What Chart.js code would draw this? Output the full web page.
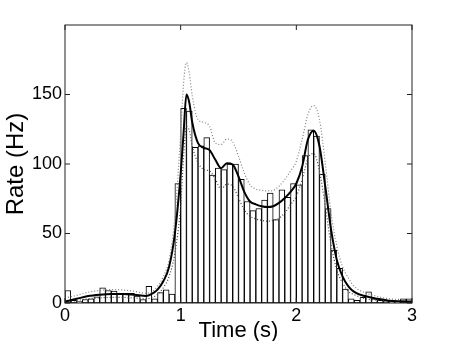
<!DOCTYPE html>
<html>
<head>
<meta charset="utf-8">
<title>Rate</title>
<script src="https://cdn.jsdelivr.net/npm/chart.js@4/dist/chart.umd.min.js"></script>
<style>
  html, body { margin: 0; padding: 0; background: #fff; }
  canvas { display: block; }
</style>
</head>
<body>
<canvas id="rateChart" width="455" height="341"></canvas>
<script>
// PSTH counts, 50 ms bins from 0 to 3 s
const binWidth = 0.05;
const binRate = [
  9, 2, 1, 2.5, 3, 4.5, 11, 9, 8.5, 7,
  7, 7, 5, 2.5, 12, 3, 7.5, 9.5, 6.5, 86,
  140, 138, 112, 113, 119, 92, 97, 96, 100, 100,
  89, 73, 66.5, 68, 74, 79, 60, 81.5, 76, 86,
  85, 106, 124.5, 120, 92.5, 68, 38, 25, 10, 3,
  2, 4, 8, 3, 2, 1.5, 1, 1, 3, 3
];
const binCenters = binRate.map((_, i) => (i + 0.5) * binWidth);

// smoothed rate estimate with its upper / lower bounds
const curveTime = [
  0, 0.1, 0.2, 0.3, 0.4, 0.5, 0.6, 0.7, 0.75, 0.8,
  0.85, 0.9, 0.95, 1.0, 1.025, 1.05, 1.075, 1.1, 1.15, 1.2,
  1.25, 1.3, 1.35, 1.4, 1.45, 1.5, 1.55, 1.6, 1.65, 1.7,
  1.75, 1.8, 1.85, 1.9, 1.95, 2.0, 2.05, 2.1, 2.15, 2.2,
  2.25, 2.3, 2.35, 2.4, 2.45, 2.5, 2.6, 2.7, 2.8, 2.9, 3.0
];
const rateMean = [
  1, 3, 5, 6, 6.5, 6.5, 6, 5, 6.5, 9.6,
  15.6, 26, 50, 93, 122, 150, 144, 130, 115, 111.6,
  110, 103, 97, 100.5, 99.6, 91, 80, 73, 71, 69.6,
  69, 69.6, 72, 75.6, 80, 86, 98, 117.6, 124, 113,
  84, 53, 31, 19, 12, 8, 4.8, 3, 1.7, 1.2, 1
];
const rateUpper = [
  3.6, 5.5, 7.7, 9, 9.6, 9.4, 8.4, 7, 8, 12,
  19, 31, 62, 122, 158, 173, 165, 149, 132, 130,
  127, 115, 114, 118, 116, 105.6, 93.6, 85, 82, 81,
  80.6, 81, 84, 88.8, 95, 102, 117.6, 135.6, 142, 132,
  100.8, 64.8, 41, 26, 18, 12, 7.2, 4.8, 3, 2.6, 2.4
];
const rateLower = [
  0.2, 1.8, 3, 3.7, 4, 4, 3.6, 3, 4, 6,
  11, 19, 36, 70, 105, 127, 124, 113, 101, 96,
  95, 89, 82, 85.5, 84, 75.6, 67, 62.4, 60.5, 59.5,
  58.8, 59.5, 61, 64.8, 70.8, 76.8, 88.8, 104, 107.5, 95,
  70, 42, 24, 14.4, 8.4, 6, 3, 2, 1.2, 0.8, 0.5
];

const xTicks = [0, 1, 2, 3];
const yTicks = [0, 50, 100, 150];

function points(xs, ys) {
  return xs.map((x, i) => ({ x: x, y: ys[i] }));
}

// box around the axes with inward tick marks on all four sides
const axesBox = {
  id: 'axesBox',
  afterDatasetsDraw(chart) {
    const { ctx, chartArea: a, scales } = chart;
    const len = 5;
    ctx.save();
    ctx.strokeStyle = '#222';
    ctx.lineWidth = 1;
    ctx.strokeRect(a.left, a.top, a.right - a.left, a.bottom - a.top);
    ctx.beginPath();
    yTicks.forEach(v => {
      const y = scales.y.getPixelForValue(v);
      ctx.moveTo(a.left, y); ctx.lineTo(a.left + len, y);
      ctx.moveTo(a.right, y); ctx.lineTo(a.right - len, y);
    });
    xTicks.forEach(v => {
      const x = scales.x.getPixelForValue(v);
      ctx.moveTo(x, a.bottom); ctx.lineTo(x, a.bottom - len);
      ctx.moveTo(x, a.top); ctx.lineTo(x, a.top + len);
    });
    ctx.stroke();
    ctx.restore();
  }
};

const ctx = document.getElementById('rateChart').getContext('2d');
const rateChart = new Chart(ctx, {
  type: 'bar',
  data: {
    datasets: [
      {
        type: 'line',
        data: points(curveTime, rateMean),
        borderColor: '#000',
        borderWidth: 2,
        pointRadius: 0,
        cubicInterpolationMode: 'monotone',
        fill: false
      },
      {
        type: 'line',
        data: points(curveTime, rateUpper),
        borderColor: '#808080',
        borderWidth: 1.2,
        borderDash: [1, 2],
        pointRadius: 0,
        cubicInterpolationMode: 'monotone',
        fill: false
      },
      {
        type: 'line',
        data: points(curveTime, rateLower),
        borderColor: '#444',
        borderWidth: 1.2,
        borderDash: [1, 2],
        pointRadius: 0,
        cubicInterpolationMode: 'monotone',
        fill: false
      },
      {
        type: 'bar',
        data: points(binCenters, binRate),
        backgroundColor: '#fff',
        borderColor: '#000',
        borderWidth: 1,
        borderSkipped: false,
        barPercentage: 1,
        categoryPercentage: 1
      }
    ]
  },
  options: {
    responsive: false,
    animation: false,
    layout: { padding: { left: 0, top: 25, right: 43, bottom: 0 } },
    plugins: {
      legend: { display: false },
      tooltip: { enabled: false }
    },
    scales: {
      x: {
        type: 'linear',
        min: 0,
        max: 3,
        offset: false,
        grid: { display: false, drawTicks: false },
        border: { display: false },
        afterBuildTicks: scale => { scale.ticks = xTicks.map(v => ({ value: v })); },
        afterFit: scale => { scale.height = 38; },
        ticks: {
          padding: 2,
          color: '#000',
          maxRotation: 0,
          font: { family: 'Liberation Sans, Arial, sans-serif', size: 18 }
        },
        title: {
          display: true,
          text: 'Time (s)',
          color: '#000',
          padding: { top: 0, bottom: 1 },
          font: { family: 'Liberation Sans, Arial, sans-serif', size: 22, lineHeight: 0.8 }
        }
      },
      y: {
        min: 0,
        max: 200,
        grid: { display: false, drawTicks: false },
        border: { display: false },
        afterBuildTicks: scale => { scale.ticks = yTicks.map(v => ({ value: v })); },
        afterFit: scale => { scale.width = 65; },
        ticks: {
          padding: 3,
          color: '#000',
          font: { family: 'Liberation Sans, Arial, sans-serif', size: 18 }
        },
        title: {
          display: true,
          text: 'Rate (Hz)',
          color: '#000',
          padding: { top: 2, bottom: 0 },
          font: { family: 'Liberation Sans, Arial, sans-serif', size: 24 }
        }
      }
    }
  },
  plugins: [axesBox]
});
</script>
</body>
</html>
